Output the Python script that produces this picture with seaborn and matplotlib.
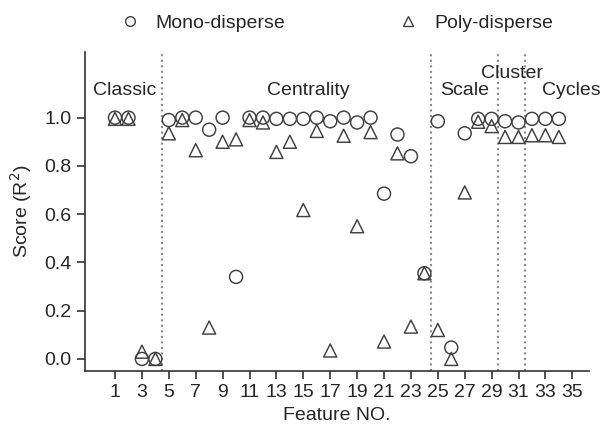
import numpy as np
import pandas as pd
import matplotlib
matplotlib.use("Agg")
import matplotlib.pyplot as plt
from matplotlib.lines import Line2D
import seaborn as sns

# ---- data ----
features = list(range(1, 35))
mono = [1.00, 1.00, 0.00, 0.00, 0.99, 1.00, 1.00, 0.95, 1.00, 0.34,
        1.00, 1.00, 0.995, 0.995, 0.995, 1.00, 0.985, 1.00, 0.98, 1.00,
        0.685, 0.93, 0.84, 0.355, 0.985, 0.047, 0.935, 0.995, 0.995, 0.985,
        0.98, 0.995, 0.995, 0.995]
poly = [0.995, 0.995, 0.03, 0.00, 0.935, 0.99, 0.865, 0.13, 0.90, 0.91,
        0.99, 0.98, 0.858, 0.90, 0.617, 0.945, 0.035, 0.925, 0.55, 0.94,
        0.072, 0.852, 0.134, 0.355, 0.12, 0.00, 0.69, 0.983, 0.965, 0.92,
        0.92, 0.927, 0.927, 0.92]
series_names = ["Mono-disperse", "Poly-disperse"]
section_labels = ["Classic", "Centrality", "Scale", "Cluster", "Cycles"]
section_x = [1.75, 15.4, 27.0, 30.5, 34.9]
section_y = [1.114, 1.114, 1.114, 1.183, 1.114]
boundaries = [4.5, 24.5, 29.5, 31.5]
xticks = list(range(1, 36, 2))
yticks = [0.0, 0.2, 0.4, 0.6, 0.8, 1.0]

df = pd.DataFrame({
    "feature": features * 2,
    "score": mono + poly,
    "type": [series_names[0]] * len(mono) + [series_names[1]] * len(poly),
})

sns.set_style("ticks")
plt.rcParams["font.family"] = ["Liberation Sans", "DejaVu Sans"]
plt.rcParams["font.size"] = 14

fig = plt.figure(figsize=(6.03, 4.28), dpi=100)
ax = fig.add_axes([0.141, 0.1332, 0.836, 0.7453])

ec = "#404040"
markers = {"Mono-disperse": "o", "Poly-disperse": "^"}
for name in series_names:
    sub = df[df["type"] == name]
    sns.scatterplot(data=sub, x="feature", y="score", marker=markers[name],
                    s=88, facecolor="none", edgecolor=ec, linewidth=1.05,
                    ax=ax, legend=False, zorder=3)

for b in boundaries:
    ax.axvline(b, color="#8a8a8a", linestyle=":", linewidth=1.5, zorder=1)

for lab, x, y in zip(section_labels, section_x, section_y):
    ax.text(x, y, lab, ha="center", va="center", fontsize=14, color="#262626")

ax.set_xlim(-1.23, 36.25)
ax.set_ylim(-0.05, 1.272)
ax.set_xticks(xticks)
ax.set_yticks(yticks)
ax.set_yticklabels([f"{v:.1f}" for v in yticks])
ax.set_xlabel("Feature NO.", fontsize=14, color="#262626")
ax.set_ylabel("Score (R$^2$)", fontsize=14, color="#262626", labelpad=7.5)
ax.tick_params(axis="both", length=6, width=1.2, colors="#333333",
               labelcolor="#262626", labelsize=14, pad=3.5)
sns.despine(ax=ax)
for sp in ["left", "bottom"]:
    ax.spines[sp].set_color("#333333")
    ax.spines[sp].set_linewidth(1.2)

handles = [Line2D([], [], marker=markers[n], linestyle="none", markersize=7,
                  markerfacecolor="none", markeredgecolor=ec, markeredgewidth=1.0,
                  label=n) for n in series_names]
fig.legend(handles=handles, loc="center", bbox_to_anchor=(0.558, 0.946),
           ncol=2, frameon=False, fontsize=14, handlelength=1.0,
           handletextpad=0.85, columnspacing=5.8, borderaxespad=0)

fig.savefig("out.png", dpi=100)
